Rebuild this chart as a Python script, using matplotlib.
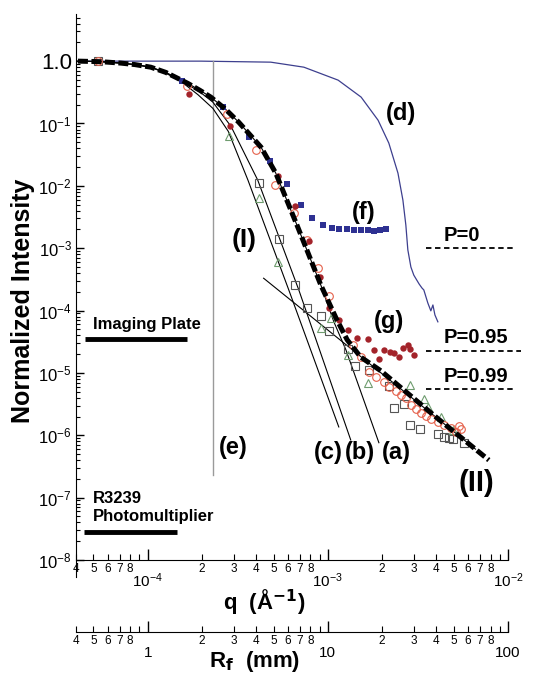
import numpy as np
import matplotlib.pyplot as plt
from matplotlib.ticker import LogLocator, FuncFormatter, NullFormatter

plt.rcParams['font.family'] = ['Liberation Sans', 'DejaVu Sans']
plt.rcParams['mathtext.default'] = 'regular'

# thick dashed fit (II)
fit_q = [4.1e-5, 5.5e-5, 7.1e-5, 8.5e-5, 1.04e-4, 1.26e-4, 1.45e-4, 1.67e-4, 1.95e-4,
         2.24e-4, 2.7e-4, 3.2e-4, 4.25e-4, 5.14e-4, 6.8e-4, 9.14e-4, 1.11e-3,
         1.28e-3, 1.52e-3, 1.97e-3, 4.08e-3, 7.83e-3]
fit_I = [1.0, 0.98, 0.93, 0.88, 0.80, 0.66, 0.54, 0.44, 0.34,
         0.265, 0.17, 0.105, 0.042, 0.016, 2.2e-3, 2.57e-4, 7.6e-5,
         3.4e-5, 1.8e-5, 1.08e-5, 1.85e-6, 4.0e-7]

# thin model curves (a), (b), (c)
a_q = [4.1e-5, 5.5e-5, 7.1e-5, 8.5e-5, 1.04e-4, 1.26e-4, 1.45e-4, 1.67e-4, 1.95e-4,
       2.24e-4, 2.7e-4, 3.2e-4, 4.25e-4, 5.14e-4, 6.8e-4, 9.14e-4, 1.08e-3,
       1.26e-3, 1.92e-3]
a_I = [1.0, 0.98, 0.93, 0.88, 0.80, 0.66, 0.54, 0.44, 0.34,
       0.265, 0.17, 0.105, 0.042, 0.016, 2.2e-3, 2.57e-4, 6.6e-5,
       2.34e-5, 7.6e-7]
b_q = [4.1e-5, 5.5e-5, 7.1e-5, 8.5e-5, 1.04e-4, 1.26e-4, 1.45e-4, 1.63e-4, 1.95e-4,
       2.3e-4, 2.9e-4, 4.08e-4, 6.9e-4, 1.34e-3]
b_I = [1.0, 0.98, 0.93, 0.88, 0.80, 0.65, 0.53, 0.44, 0.32,
       0.22, 0.09, 0.0124, 2.14e-4, 8.4e-7]
c_q = [4.1e-5, 5.5e-5, 7.1e-5, 8.5e-5, 1.04e-4, 1.26e-4, 1.45e-4, 1.58e-4, 1.9e-4,
       2.3e-4, 2.8e-4, 3.6e-4, 6.07e-4, 1.15e-3]
c_I = [1.0, 0.98, 0.93, 0.88, 0.80, 0.64, 0.52, 0.44, 0.29,
       0.175, 0.075, 0.0124, 2.14e-4, 1.36e-6]

# power-law asymptote
pl_q = [4.4e-4, 6.6e-3]
pl_I = [3.3e-4, 6.0e-7]

# (d) curve
d_q = [4.41e-5, 1.97e-4, 4.82e-4, 7.36e-4, 1.14e-3, 1.53e-3, 1.90e-3, 2.18e-3,
       2.45e-3, 2.61e-3, 2.71e-3, 2.78e-3, 2.89e-3, 3.0e-3, 3.21e-3, 3.33e-3,
       3.41e-3, 3.59e-3, 3.73e-3, 3.83e-3, 3.93e-3, 4.08e-3]
d_I = [1.0, 1.0, 0.963, 0.80, 0.496, 0.265, 0.113, 0.0485,
       0.016, 5.9e-3, 2.35e-3, 9.4e-4, 5.0e-4, 3.7e-4, 2.67e-4, 2.3e-4,
       2.14e-4, 1.32e-4, 9.9e-5, 1.23e-4, 8.5e-5, 6.6e-5]

# (e) vertical line
e_q = 2.3e-4
e_I = [1.0, 2.3e-7]

# (f) blue squares
f_q = [1.55e-4, 2.61e-4, 3.64e-4, 4.76e-4, 5.92e-4, 7.08e-4, 8.15e-4, 9.38e-4,
       1.05e-3, 1.15e-3, 1.28e-3, 1.39e-3, 1.52e-3, 1.67e-3, 1.80e-3, 1.95e-3, 2.10e-3]
f_I = [0.478, 0.183, 0.0605, 0.025, 0.0107, 4.92e-3, 3.05e-3, 2.35e-3,
       2.11e-3, 2.03e-3, 2.03e-3, 1.96e-3, 1.96e-3, 1.96e-3, 1.89e-3, 1.96e-3, 2.03e-3]

# (g) red filled circles
g_q = [1.69e-4, 2.86e-4, 5.27e-4, 6.56e-4, 7.83e-4, 9.03e-4, 1.01e-3, 1.15e-3,
       1.29e-3, 1.45e-3, 1.67e-3, 1.80e-3, 1.92e-3, 2.05e-3, 2.21e-3, 2.33e-3,
       2.48e-3, 2.61e-3, 2.78e-3, 2.86e-3, 3.01e-3]
g_I = [0.296, 0.0908, 0.01436, 4.75e-3, 1.30e-3, 3.45e-4, 1.10e-4, 7.07e-5,
       4.89e-5, 3.64e-5, 3.51e-5, 2.34e-5, 1.68e-5, 2.34e-5, 2.17e-5, 2.09e-5,
       1.80e-5, 2.52e-5, 2.81e-5, 2.43e-5, 1.94e-5]

# open red circles
oc_q = [5.27e-5, 1.65e-4, 2.75e-4, 3.98e-4, 5.08e-4, 6.47e-4, 7.64e-4, 8.79e-4,
        1.01e-3, 1.38e-3, 1.52e-3, 1.69e-3, 1.85e-3, 2.05e-3, 2.18e-3, 2.39e-3,
        2.55e-3, 2.71e-3, 2.89e-3, 3.08e-3, 3.29e-3, 3.50e-3, 3.73e-3, 4.08e-3,
        4.41e-3, 4.82e-3, 5.14e-3, 5.35e-3, 5.48e-3]
oc_I = [1.02, 0.397, 0.1415, 0.0375, 0.0103, 3.66e-3, 1.35e-3, 4.82e-4,
        1.71e-4, 2.81e-5, 1.80e-5, 1.04e-5, 8.63e-6, 7.18e-6, 5.97e-6, 5.15e-6,
        4.44e-6, 3.97e-6, 3.07e-6, 2.65e-6, 2.29e-6, 2.05e-6, 1.83e-6, 1.64e-6,
        1.47e-6, 1.31e-6, 1.13e-6, 1.42e-6, 1.27e-6]

# open squares
sq_q = [5.27e-5, 4.14e-4, 5.35e-4, 6.56e-4, 7.64e-4, 9.14e-4, 1.01e-3, 1.29e-3,
        1.41e-3, 1.69e-3, 2.18e-3, 2.33e-3, 2.64e-3, 2.86e-3, 3.24e-3, 4.08e-3,
        4.41e-3, 4.70e-3, 4.94e-3, 5.70e-3]
sq_I = [1.02, 0.0111, 1.40e-3, 2.57e-4, 1.10e-4, 8.19e-5, 4.71e-5, 2.43e-5,
        1.29e-5, 1.12e-5, 6.19e-6, 2.75e-6, 3.19e-6, 1.47e-6, 1.27e-6, 1.05e-6,
        9.4e-7, 9.1e-7, 8.75e-7, 7.55e-7]

# open triangles
tr_q = [2.82e-4, 4.14e-4, 5.27e-4, 9.14e-4, 1.04e-3, 1.29e-3, 1.67e-3, 2.86e-3,
        3.41e-3, 3.59e-3, 4.25e-3, 4.94e-3]
tr_I = [0.0628, 6.37e-3, 6.01e-4, 5.26e-5, 7.6e-5, 1.94e-5, 6.92e-6, 6.43e-6,
        3.83e-6, 2.85e-6, 1.97e-6, 1.22e-6]

# probability levels
p_labels = ['P=0', 'P=0.95', 'P=0.99']
p_I = [1.0e-3, 2.25e-5, 5.5e-6]
p_q0 = 3.5e-3
p_q1 = [1.07e-2, 1.18e-2, 1.08e-2]

# detector limits
det_labels = ['Imaging Plate', 'R3239\nPhotomultiplier']
det_I = [3.5e-5, 2.83e-8]
det_q = [(4.46e-5, 1.65e-4), (4.41e-5, 1.45e-4)]

fig = plt.figure(figsize=(5.47, 6.84), dpi=100)
ax = fig.add_axes([76/547, 1-560/684, 432/547, 546/684])
ax.set_xscale('log')
ax.set_yscale('log')
ax.set_xlim(4e-5, 1e-2)
ax.set_ylim(1e-8, 5.7)

ax.plot(d_q, d_I, color='#3d3f8e', lw=0.9)
ax.plot([e_q, e_q], e_I, color='#9a9a9a', lw=1.0)
ax.plot(a_q, a_I, color='k', lw=0.8)
ax.plot(b_q, b_I, color='k', lw=0.8)
ax.plot(c_q, c_I, color='k', lw=0.8)
ax.plot(pl_q, pl_I, color='k', lw=0.8)

ax.plot(sq_q, sq_I, 's', mfc='none', mec='#555555', ms=5.5, mew=0.8)
ax.plot(tr_q, tr_I, '^', mfc='none', mec='#6f9c6f', ms=6, mew=0.8)
ax.plot(oc_q, oc_I, 'o', mfc='none', mec='#e5604a', ms=5.5, mew=0.8)
ax.plot(f_q, f_I, 's', color='#2e3192', ms=4.2, mew=0)
ax.plot(g_q, g_I, 'o', color='#a3232a', ms=4.6, mew=0)

ax.plot(fit_q, fit_I, color='k', lw=3.6, ls=(0, (2.0, 0.7)), zorder=5)

for lab, yv, q1 in zip(p_labels, p_I, p_q1):
    ax.plot([p_q0, q1], [yv, yv], color='k', lw=1.3, ls=(0, (3, 2)), clip_on=False)
    ax.text(4.41e-3, yv * 1.62, lab, fontsize=14.5, fontweight='bold', va='center', ha='left')

for lab, yv, (q0, q1) in zip(det_labels, det_I, det_q):
    ax.plot([q0, q1], [yv, yv], color='k', lw=3.5, solid_capstyle='butt')
ax.text(4.95e-5, 5.9e-5, det_labels[0], fontsize=12, fontweight='bold', va='center')
ax.text(4.95e-5, 7.0e-8, det_labels[1], fontsize=12, fontweight='bold', va='center',
        linespacing=1.2)

tk = dict(fontsize=17, fontweight='bold', ha='center', va='center')
ax.text(2.55e-3, 0.147, '(d)', **tk)
ax.text(1.58e-3, 3.8e-3, '(f)', **tk)
ax.text(3.41e-4, 1.35e-3, '(I)', fontsize=19, fontweight='bold', ha='center', va='center')
ax.text(2.18e-3, 6.6e-5, '(g)', **tk)
ax.text(2.97e-4, 6.3e-7, '(e)', **tk)
ax.text(1.01e-3, 5.2e-7, '(c)', **tk)
ax.text(1.50e-3, 5.2e-7, '(b)', **tk)
ax.text(2.39e-3, 5.2e-7, '(a)', **tk)
ax.text(6.64e-3, 1.73e-7, '(II)', fontsize=21, fontweight='bold', ha='center', va='center')

for s in ['top', 'right']:
    ax.spines[s].set_visible(False)
ax.spines['left'].set_bounds(5.3e-9, 5.7)


def minor_lab(v, pos):
    e = np.floor(round(np.log10(v), 6))
    m = int(round(v / 10**e))
    return str(m) if 2 <= m <= 8 else ''


ax.xaxis.set_major_locator(LogLocator(base=10))
ax.xaxis.set_minor_locator(LogLocator(base=10, subs=np.arange(2, 10)))
ax.xaxis.set_major_formatter(FuncFormatter(lambda v, p: '$10^{%d}$' % round(np.log10(v))))
ax.xaxis.set_minor_formatter(FuncFormatter(minor_lab))
ax.tick_params(axis='x', which='major', direction='in', length=8, width=1, labelsize=11, pad=8)
ax.tick_params(axis='x', which='minor', direction='in', length=4, width=0.8, labelsize=8.5, pad=2)

yt = [10.0**k for k in range(-8, 1)]
ylabs = ['$10^{%d}$' % k for k in range(-8, 0)] + ['1.0']
ax.set_yticks(yt, labels=ylabs)
ax.yaxis.set_minor_locator(LogLocator(base=10, subs=np.arange(2, 10), numticks=20))
ax.yaxis.set_minor_formatter(NullFormatter())
ax.tick_params(axis='y', which='major', direction='in', length=6, width=1, labelsize=12, pad=3)
ax.tick_params(axis='y', which='minor', direction='in', length=3, width=0.8)
ax.get_yticklabels()[-1].set_fontsize(16)

# R_f (mm) scale, R_f = q * 1e4
rax = fig.add_axes([76/547, 1-632/684, 432/547, 0.01])
rax.set_xscale('log')
rax.set_xlim(4e-5 * 1e4, 1e-2 * 1e4)
rax.patch.set_visible(False)
for s in ['top', 'right', 'left']:
    rax.spines[s].set_visible(False)
rax.set_yticks([])
rax.xaxis.set_major_locator(LogLocator(base=10))
rax.xaxis.set_minor_locator(LogLocator(base=10, subs=np.arange(2, 10)))
rax.xaxis.set_major_formatter(FuncFormatter(lambda v, p: '%g' % v))
rax.xaxis.set_minor_formatter(FuncFormatter(minor_lab))
rax.tick_params(axis='x', which='major', direction='in', length=8, width=1, labelsize=11, pad=10)
rax.tick_params(axis='x', which='minor', direction='in', length=4, width=0.8, labelsize=8.5, pad=2)

fig.text(23/547, 1-301/684, 'Normalized Intensity', rotation=90, fontsize=18,
         fontweight='bold', ha='center', va='center')
fig.text(264/547, 1-602/684, r'q  (Å$\mathbf{^{-1}}$)', fontsize=16,
         fontweight='bold', ha='center', va='center')
fig.text(255/547, 1-662/684, r'R$\mathbf{_f}$  (mm)', fontsize=16,
         fontweight='bold', ha='center', va='center')

fig.savefig('out.png', dpi=100)
